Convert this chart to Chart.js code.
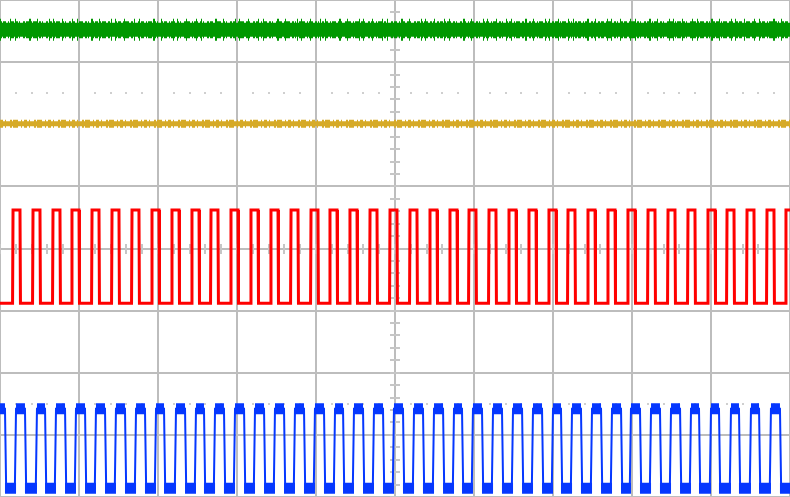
<!DOCTYPE html>
<html><head><meta charset="utf-8">
<script src="https://cdn.jsdelivr.net/npm/chart.js@4"></script>
<style>html,body{margin:0;padding:0;background:#fff;overflow:hidden}canvas{display:block}</style>
</head><body>
<canvas id="c" width="790" height="497"></canvas>
<script>
// Time in screen divisions (10 across), voltage in divisions (8 high, bottom = 0)
const timeRange = [0, 10];
const voltRange = [0, 8];

// Channel levels (divisions)
const greenLevel = 7.52;
const yellowLevel = 6.01;
const redHigh = 4.62, redLow = 3.12;
const blueHigh = 1.42, blueLow = 0.14;

// Red channel edges (divisions)
const redRise = [0.165,0.418,0.671,0.911,1.165,1.418,1.671,1.924,2.177,2.430,
  2.671,2.924,3.177,3.430,3.684,3.937,4.177,4.430,4.684,4.937,
  5.190,5.443,5.696,5.937,6.190,6.443,6.696,6.949,7.190,7.443,
  7.696,7.949,8.203,8.456,8.709,8.962,9.203,9.456,9.709,9.949];
const redFall = [0.253,0.506,0.759,1.000,1.253,1.506,1.759,2.013,2.266,2.519,
  2.759,3.013,3.266,3.519,3.772,4.025,4.266,4.519,4.772,5.025,
  5.278,5.532,5.785,6.025,6.278,6.532,6.785,7.038,7.278,7.532,
  7.785,8.038,8.291,8.544,8.797,9.051,9.291,9.544,9.797,10.038];

// Blue channel edges (divisions); trace starts high
const blueFall = [0.063,0.316,0.570,0.823,1.076,1.329,1.582,1.835,2.076,2.342,
  2.582,2.835,3.089,3.342,3.595,3.848,4.101,4.342,4.595,4.848,
  5.101,5.354,5.608,5.848,6.101,6.354,6.608,6.861,7.101,7.354,
  7.608,7.861,8.101,8.354,8.608,8.848,9.101,9.354,9.608,9.873];
const blueRise = [0.203,0.468,0.709,0.962,1.215,1.468,1.722,1.975,2.228,2.481,
  2.722,2.975,3.228,3.481,3.734,3.987,4.241,4.481,4.734,4.987,
  5.241,5.494,5.747,5.987,6.241,6.494,6.747,7.000,7.241,7.494,
  7.747,7.987,8.241,8.494,8.747,9.000,9.253,9.506,9.759];

function squareWave(rise, fall, hi, lo, startHigh, edge) {
  const ev = rise.map(t => ({t, up: true})).concat(fall.map(t => ({t, up: false})))
    .sort((a, b) => a.t - b.t);
  let level = startHigh ? hi : lo;
  const pts = [{x: timeRange[0], y: level}];
  ev.forEach(e => {
    if (e.up) { pts.push({x: e.t - edge, y: lo}); pts.push({x: e.t, y: hi}); level = hi; }
    else { pts.push({x: e.t, y: hi}); pts.push({x: e.t + edge, y: lo}); level = lo; }
  });
  pts.push({x: timeRange[1] + 0.1, y: level});
  return pts;
}
function plateaus(starts, ends, level) {
  const pts = [];
  for (let i = 0; i < starts.length; i++) {
    pts.push({x: starts[i], y: level});
    pts.push({x: ends[i], y: level});
    pts.push({x: ends[i], y: null});
  }
  return pts;
}
const flat = lvl => [{x: timeRange[0], y: lvl}, {x: timeRange[1], y: lvl}];

const blueHighStarts = [timeRange[0]].concat(blueRise);
const blueHighEnds = blueFall.slice();
const blueLowStarts = blueFall.slice();
const blueLowEnds = blueRise.concat([timeRange[1] + 0.1]);

const GREEN = 'rgb(0,152,0)', YELLOW = 'rgb(214,170,40)', RED = 'rgb(255,0,0)', BLUE = 'rgb(5,55,255)';
const base = {pointRadius: 0, tension: 0, fill: false, spanGaps: false};

const graticule = {
  id: 'graticule',
  beforeDatasetsDraw(chart) {
    const {ctx, scales: {x, y}} = chart;
    ctx.save();
    const cx = Math.round(x.getPixelForValue(5)), cy = Math.round(y.getPixelForValue(4));
    ctx.fillStyle = '#c6c6c6';
    for (let k = 0; k <= 40; k++) {
      const py = Math.round(y.getPixelForValue(k / 5));
      ctx.fillRect(cx - 5, py - 1, 10, 2);
    }
    for (let k = 0; k <= 50; k++) {
      const px = Math.round(x.getPixelForValue(k / 5));
      ctx.fillRect(px - 1, cy - 5, 2, 10);
    }
    ctx.fillStyle = '#cfcfcf';
    [6.5, 1.5].forEach(row => {
      const py = Math.round(y.getPixelForValue(row));
      for (let k = 0; k <= 50; k++) {
        if (k % 5 === 0) continue;
        const px = Math.round(x.getPixelForValue(k / 5));
        ctx.fillRect(px - 1, py - 1, 2, 2);
      }
    });
    ctx.restore();
  }
};

new Chart(document.getElementById('c'), {
  type: 'line',
  data: {
    datasets: [
      Object.assign({label: 'CH1 spikes', data: flat(greenLevel), borderColor: GREEN, borderWidth: 22,
        borderDash: [1, 9, 1, 4, 1, 13, 2, 6, 1, 11, 1, 3, 1, 8]}, base),
      Object.assign({label: 'CH1 noise', data: flat(greenLevel), borderColor: GREEN, borderWidth: 17,
        borderDash: [2, 1, 3, 2, 1, 1, 4, 2, 2, 1, 1, 3]}, base),
      Object.assign({label: 'CH1', data: flat(greenLevel), borderColor: GREEN, borderWidth: 14}, base),
      Object.assign({label: 'CH2 noise', data: flat(yellowLevel), borderColor: YELLOW, borderWidth: 8,
        borderDash: [3, 2, 1, 4, 2, 1, 5, 3, 1, 2]}, base),
      Object.assign({label: 'CH2', data: flat(yellowLevel), borderColor: YELLOW, borderWidth: 5}, base),
      Object.assign({label: 'CH3', data: squareWave(redRise, redFall, redHigh, redLow, false, 0.006),
        borderColor: RED, borderWidth: 3}, base),
      Object.assign({label: 'CH4 top', data: plateaus(blueHighStarts, blueHighEnds, blueHigh),
        borderColor: BLUE, borderWidth: 11}, base),
      Object.assign({label: 'CH4 bottom', data: plateaus(blueLowStarts, blueLowEnds, blueLow),
        borderColor: BLUE, borderWidth: 11}, base),
      Object.assign({label: 'CH4', data: squareWave(blueRise, blueFall, blueHigh, blueLow, true, 0.015),
        borderColor: BLUE, borderWidth: 2}, base)
    ]
  },
  options: {
    responsive: false,
    animation: false,
    layout: {padding: 0},
    plugins: {legend: {display: false}, tooltip: {enabled: false}},
    scales: {
      x: {type: 'linear', min: timeRange[0], max: timeRange[1],
        ticks: {display: false, stepSize: 1}, border: {display: false},
        grid: {color: '#bdbdbd', lineWidth: 2, drawTicks: false}},
      y: {type: 'linear', min: voltRange[0], max: voltRange[1],
        ticks: {display: false, stepSize: 1}, border: {display: false},
        grid: {color: '#bdbdbd', lineWidth: 2, drawTicks: false}}
    }
  },
  plugins: [graticule]
});
</script>
</body></html>
